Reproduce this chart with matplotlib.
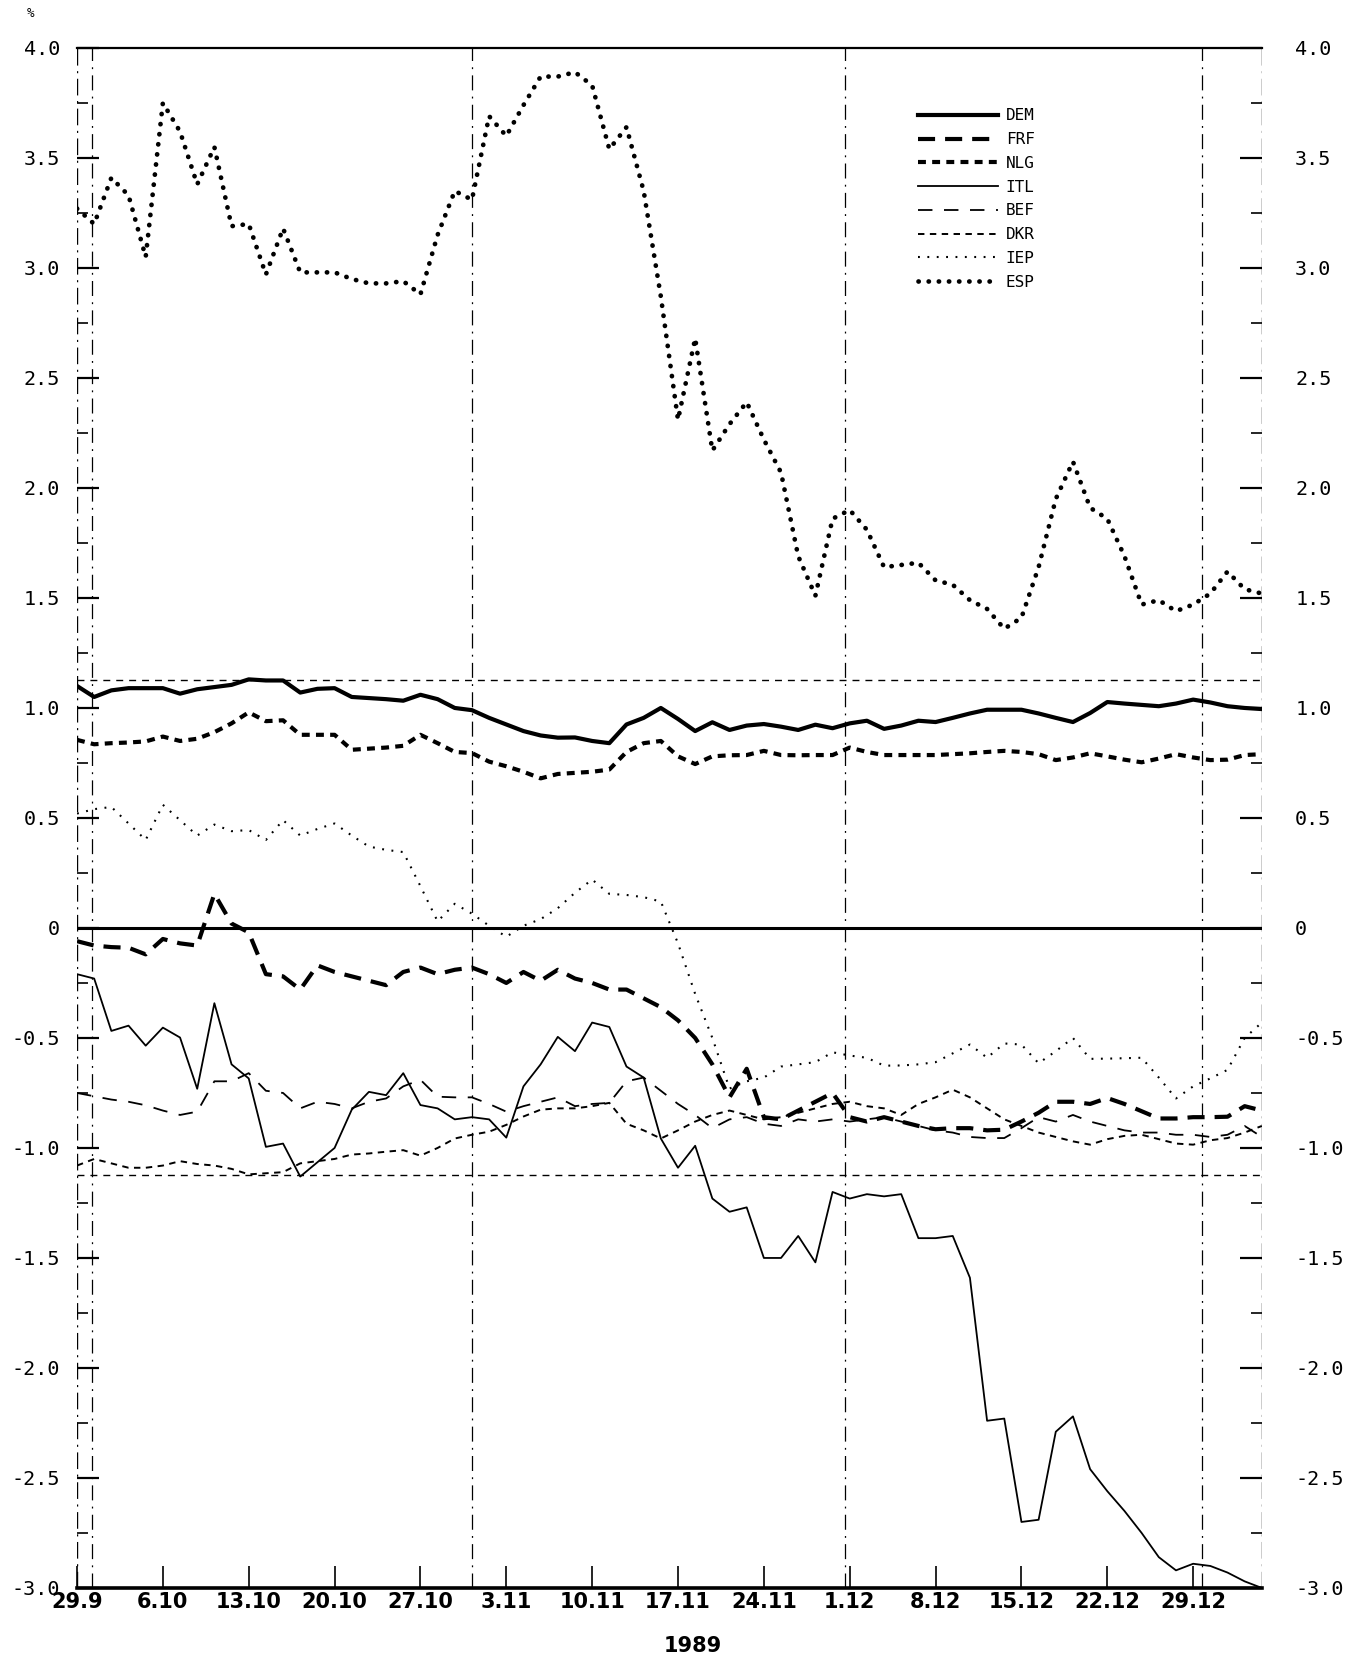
import numpy as np
import matplotlib
matplotlib.use('Agg')
import matplotlib.pyplot as plt
from matplotlib.ticker import FixedLocator, FuncFormatter

# weekly tick labels (every 5th business day), 1989
week_labels = ['29.9', '6.10', '13.10', '20.10', '27.10', '3.11', '10.11',
               '17.11', '24.11', '1.12', '8.12', '15.12', '22.12', '29.12']

# month-end markers, in business-day units
month_marks = [0.9, 23.0, 44.7, 65.5]

# intervention thresholds
upper_limit = 1.125
lower_limit = -1.125

dem = [1.10, 1.05, 1.08, 1.09, 1.09, 1.09, 1.065, 1.085, 1.095, 1.105,
       1.13, 1.125, 1.125, 1.07, 1.087, 1.09, 1.05, 1.045, 1.04, 1.033,
       1.06, 1.04, 1.0, 0.99, 0.955, 0.925, 0.895, 0.875, 0.865, 0.866,
       0.85, 0.84, 0.925, 0.955, 1.0, 0.95, 0.895, 0.935, 0.9, 0.92,
       0.927, 0.915, 0.9, 0.924, 0.908, 0.93, 0.942, 0.905, 0.92, 0.942,
       0.936, 0.955, 0.975, 0.992, 0.992, 0.992, 0.975, 0.955, 0.936, 0.977,
       1.027, 1.02, 1.014, 1.008, 1.02, 1.038, 1.025, 1.008, 1.0, 0.995]

frf = [-0.06, -0.08, -0.087, -0.09, -0.12, -0.05, -0.07, -0.08, 0.155, 0.02,
       -0.02, -0.21, -0.22, -0.28, -0.17, -0.2, -0.22, -0.24, -0.26, -0.2,
       -0.18, -0.21, -0.19, -0.18, -0.21, -0.25, -0.2, -0.24, -0.19, -0.23,
       -0.25, -0.28, -0.28, -0.32, -0.36, -0.42, -0.5, -0.62, -0.77, -0.64,
       -0.86, -0.87, -0.83, -0.79, -0.75, -0.86, -0.88, -0.86, -0.88, -0.9,
       -0.915, -0.91, -0.91, -0.92, -0.917, -0.88, -0.84, -0.79, -0.79, -0.8,
       -0.773, -0.8, -0.833, -0.866, -0.866, -0.86, -0.86, -0.858, -0.81, -0.83]

nlg = [0.855, 0.835, 0.84, 0.843, 0.848, 0.87, 0.85, 0.86, 0.89, 0.93,
       0.98, 0.94, 0.944, 0.878, 0.878, 0.878, 0.81, 0.815, 0.82, 0.828,
       0.878, 0.84, 0.80, 0.795, 0.756, 0.735, 0.71, 0.68, 0.70, 0.705,
       0.71, 0.72, 0.80, 0.84, 0.85, 0.78, 0.745, 0.78, 0.785, 0.786,
       0.805, 0.786, 0.785, 0.786, 0.786, 0.82, 0.80, 0.786, 0.786, 0.786,
       0.786, 0.79, 0.794, 0.80, 0.805, 0.80, 0.79, 0.763, 0.775, 0.794,
       0.78, 0.765, 0.753, 0.77, 0.79, 0.775, 0.763, 0.765, 0.786, 0.79]

itl = [-0.21, -0.23, -0.468, -0.444, -0.535, -0.453, -0.498, -0.731, -0.342, -0.62,
       -0.684, -0.995, -0.98, -1.13, -1.065, -1.0, -0.826, -0.745, -0.76, -0.66,
       -0.805, -0.82, -0.87, -0.86, -0.87, -0.953, -0.72, -0.62, -0.495, -0.56,
       -0.43, -0.45, -0.63, -0.68, -0.957, -1.09, -0.99, -1.23, -1.29, -1.27,
       -1.5, -1.5, -1.4, -1.52, -1.2, -1.23, -1.21, -1.22, -1.21, -1.41,
       -1.41, -1.4, -1.59, -2.24, -2.23, -2.7, -2.69, -2.29, -2.22, -2.46,
       -2.56, -2.65, -2.75, -2.86, -2.92, -2.89, -2.9, -2.93, -2.97, -3.0]

bef = [-0.75, -0.765, -0.78, -0.79, -0.806, -0.83, -0.85, -0.835, -0.697, -0.697,
       -0.66, -0.74, -0.75, -0.82, -0.79, -0.8, -0.82, -0.79, -0.775, -0.72,
       -0.69, -0.767, -0.77, -0.77, -0.8, -0.835, -0.81, -0.79, -0.77, -0.81,
       -0.8, -0.795, -0.697, -0.68, -0.74, -0.8, -0.85, -0.91, -0.87, -0.86,
       -0.89, -0.9, -0.87, -0.88, -0.87, -0.88, -0.87, -0.86, -0.88, -0.9,
       -0.92, -0.93, -0.95, -0.955, -0.955, -0.91, -0.86, -0.88, -0.85, -0.88,
       -0.9, -0.92, -0.93, -0.93, -0.94, -0.94, -0.95, -0.94, -0.9, -0.95]

dkr = [-1.08, -1.05, -1.07, -1.09, -1.09, -1.08, -1.06, -1.073, -1.08, -1.095,
       -1.12, -1.115, -1.11, -1.07, -1.06, -1.05, -1.03, -1.025, -1.017, -1.01,
       -1.035, -1.0, -0.957, -0.94, -0.926, -0.895, -0.857, -0.826, -0.82, -0.82,
       -0.81, -0.795, -0.89, -0.92, -0.957, -0.92, -0.88, -0.85, -0.83, -0.85,
       -0.87, -0.86, -0.84, -0.82, -0.8, -0.79, -0.81, -0.82, -0.85, -0.8,
       -0.77, -0.735, -0.77, -0.82, -0.87, -0.9, -0.93, -0.95, -0.97, -0.985,
       -0.96, -0.945, -0.94, -0.96, -0.98, -0.985, -0.965, -0.955, -0.93, -0.9]

iep = [0.52, 0.54, 0.55, 0.475, 0.40, 0.56, 0.49, 0.42, 0.47, 0.44,
       0.445, 0.40, 0.49, 0.42, 0.45, 0.475, 0.42, 0.37, 0.355, 0.345,
       0.19, 0.03, 0.11, 0.065, 0.01, -0.04, 0.01, 0.04, 0.09, 0.16,
       0.22, 0.155, 0.15, 0.14, 0.12, -0.07, -0.3, -0.5, -0.73, -0.697,
       -0.68, -0.63, -0.62, -0.61, -0.565, -0.58, -0.59, -0.626, -0.625, -0.62,
       -0.61, -0.57, -0.53, -0.59, -0.525, -0.53, -0.615, -0.56, -0.50, -0.595,
       -0.594, -0.592, -0.59, -0.68, -0.775, -0.72, -0.684, -0.645, -0.5, -0.43]

esp = [3.27, 3.2, 3.41, 3.33, 3.05, 3.75, 3.62, 3.38, 3.55, 3.19,
       3.2, 2.97, 3.18, 2.98, 2.98, 2.98, 2.95, 2.93, 2.93, 2.94,
       2.88, 3.15, 3.35, 3.31, 3.69, 3.6, 3.74, 3.87, 3.87, 3.89,
       3.83, 3.54, 3.64, 3.35, 2.87, 2.31, 2.68, 2.17, 2.29, 2.39,
       2.22, 2.07, 1.69, 1.51, 1.86, 1.9, 1.81, 1.64, 1.65, 1.66,
       1.58, 1.56, 1.49, 1.45, 1.36, 1.41, 1.64, 1.95, 2.12, 1.91,
       1.86, 1.69, 1.47, 1.49, 1.44, 1.47, 1.52, 1.62, 1.54, 1.52]

series = [
    ('DEM', dem, dict(lw=3.0, ls='-')),
    ('FRF', frf, dict(lw=3.0, ls=(0, (4.1, 2.4)))),
    ('NLG', nlg, dict(lw=3.0, ls=(0, (1.9, 1.5)))),
    ('ITL', itl, dict(lw=1.3, ls='-')),
    ('BEF', bef, dict(lw=1.3, ls=(0, (8.0, 6.4)))),
    ('DKR', dkr, dict(lw=1.4, ls=(0, (3.3, 2.8)))),
    ('IEP', iep, dict(lw=1.5, ls=(0, (0.9, 3.6)))),
    ('ESP', esp, dict(lw=3.4, ls=(0, (0.05, 2.1)), dash_capstyle='round')),
]

mono = 'DejaVu Sans Mono'
narrow = ['Liberation Sans Narrow', 'DejaVu Sans']

fig = plt.figure(figsize=(13.51, 16.60), dpi=100)
ax = fig.add_axes([0.057, 0.0434, 0.877, 0.9277])

x = np.arange(len(dem))
for name, vals, style in series:
    ax.plot(x, vals, color='black', label=name, solid_joinstyle='round', **style)

ax.set_xlim(0, 69)
ax.set_ylim(-3.0, 4.0)

# reference lines
ax.axhline(0, color='black', lw=2.2, zorder=1)
for lim in (upper_limit, lower_limit):
    ax.axhline(lim, color='black', lw=1.0, ls=(0, (5, 4.3)), zorder=1)
for m in month_marks:
    ax.axvline(m, color='black', lw=0.9, ls=(0, (12, 5, 1.5, 5)), zorder=1)
for edge in (0, 69):
    ax.axvline(edge, color='black', lw=1.0, ls=(0, (12, 4, 1.5, 4)), zorder=1)

for s in ('left', 'right'):
    ax.spines[s].set_visible(False)
ax.spines['top'].set_linewidth(1.6)
ax.spines['bottom'].set_linewidth(2.6)

# x axis: weekly ticks
ax.xaxis.set_major_locator(FixedLocator(np.arange(0, 70, 5)))
ax.set_xticklabels(week_labels, fontfamily=narrow, fontweight='bold', fontsize=15)
ax.tick_params(axis='x', direction='in', length=16, width=1.2, pad=3, top=False)

# y axis ticks and labels on both sides
yticks = np.arange(-3.0, 4.01, 0.5)
yminor = np.arange(-2.75, 4.0, 0.5)


def fmt(v, pos):
    if abs(v) < 1e-9:
        return '0'
    return f'{v:.1f}'


ax2 = ax.twinx()
ax2.set_ylim(ax.get_ylim())
for a in (ax, ax2):
    a.yaxis.set_major_locator(FixedLocator(yticks))
    a.yaxis.set_minor_locator(FixedLocator(yminor))
    a.yaxis.set_major_formatter(FuncFormatter(fmt))
    for s in ('left', 'right', 'top', 'bottom'):
        a.spines[s].set_visible(s in ('top', 'bottom') and a is ax)
ax.tick_params(axis='y', which='major', direction='in', length=16, width=1.6,
               labelsize=14.5, pad=12, left=True, right=False)
ax.tick_params(axis='y', which='minor', direction='in', length=8, width=1.2,
               left=True, right=False)
ax2.tick_params(axis='y', which='major', direction='in', length=16, width=1.6,
                labelsize=14.5, pad=24, right=True, left=False)
ax2.tick_params(axis='y', which='minor', direction='in', length=8, width=1.2,
                right=True, left=False)
for lab in ax.get_yticklabels() + ax2.get_yticklabels():
    lab.set_fontfamily(mono)

leg = ax.legend(loc='upper left', bbox_to_anchor=(0.703, 0.966), frameon=False,
                handlelength=5.0, handletextpad=0.5, labelspacing=0.55,
                borderpad=0, prop={'family': mono, 'size': 11.5})

fig.text(0.02, 0.99, '%', fontsize=9, fontfamily=mono)
fig.text(0.513, 0.0085, '1989', fontsize=15, fontweight='bold',
         fontfamily=narrow, ha='center', va='center')

fig.savefig('out.png', dpi=100, facecolor='white')
